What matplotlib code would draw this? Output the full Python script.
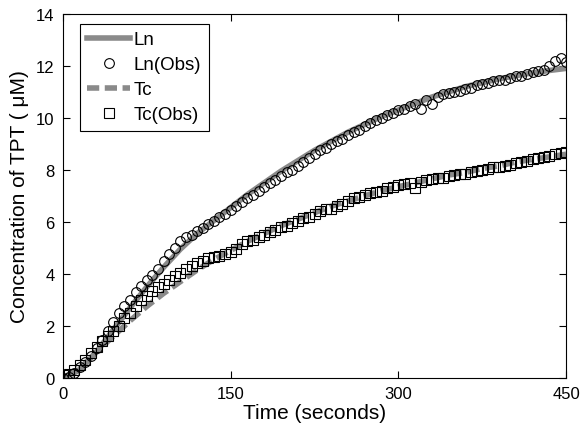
import numpy as np
import matplotlib
matplotlib.use("Agg")
import matplotlib.pyplot as plt

plt.rcParams['font.family'] = ['Liberation Sans', 'DejaVu Sans']

# observed points, every 5 s
t_obs = list(range(0, 455, 5))
ln_obs = [0.0, 0.05, 0.2, 0.4, 0.6, 0.85, 1.15, 1.45, 1.8, 2.15,
          2.5, 2.75, 3.0, 3.3, 3.55, 3.75, 3.95, 4.2, 4.5, 4.75,
          5.0, 5.25, 5.4, 5.5, 5.65, 5.75, 5.9, 6.05, 6.2, 6.3,
          6.45, 6.6, 6.75, 6.9, 7.05, 7.2, 7.35, 7.5, 7.6, 7.75,
          7.9, 8.0, 8.15, 8.3, 8.45, 8.6, 8.75, 8.85, 9.0, 9.1,
          9.2, 9.35, 9.45, 9.55, 9.7, 9.8, 9.9, 10.0, 10.1, 10.2,
          10.3, 10.35, 10.45, 10.55, 10.35, 10.7, 10.55, 10.8, 10.9, 10.95,
          11.0, 11.05, 11.1, 11.15, 11.25, 11.3, 11.35, 11.4, 11.45, 11.45,
          11.55, 11.6, 11.6, 11.7, 11.75, 11.8, 11.85, 12.0, 12.2, 12.3,
          12.15]
tc_obs = [0.1, 0.15, 0.3, 0.5, 0.7, 0.95, 1.2, 1.4, 1.6, 1.8,
          2.0, 2.3, 2.5, 2.75, 3.0, 3.15, 3.35, 3.5, 3.6, 3.75,
          3.9, 4.05, 4.2, 4.3, 4.4, 4.5, 4.6, 4.65, 4.7, 4.75,
          4.85, 4.95, 5.15, 5.25, 5.3, 5.4, 5.5, 5.6, 5.7, 5.8,
          5.85, 5.95, 6.05, 6.15, 6.2, 6.3, 6.4, 6.5, 6.5, 6.6,
          6.7, 6.8, 6.9, 6.95, 7.05, 7.1, 7.15, 7.2, 7.3, 7.35,
          7.4, 7.45, 7.5, 7.3, 7.55, 7.6, 7.65, 7.7, 7.7, 7.75,
          7.8, 7.85, 7.85, 7.9, 7.95, 8.0, 8.05, 8.1, 8.1, 8.15,
          8.2, 8.25, 8.3, 8.35, 8.4, 8.45, 8.5, 8.55, 8.6, 8.65,
          8.7]

# fitted curves
t_fit = list(range(0, 465, 15))
ln_fit = [0.0, 0.3, 1.0, 1.85, 2.7, 3.5, 4.25, 4.95, 5.55, 6.05,
          6.55, 7.05, 7.5, 7.95, 8.35, 8.75, 9.1, 9.45, 9.75, 10.05,
          10.3, 10.55, 10.8, 11.0, 11.2, 11.35, 11.5, 11.62, 11.73, 11.82,
          11.9]
tc_fit = [0.0, 0.35, 1.0, 1.6, 2.2, 2.75, 3.25, 3.7, 4.15, 4.55,
          4.9, 5.25, 5.55, 5.85, 6.1, 6.35, 6.6, 6.8, 7.0, 7.2,
          7.35, 7.5, 7.65, 7.8, 7.9, 8.05, 8.15, 8.3, 8.4, 8.5,
          8.6]

fig = plt.figure(figsize=(5.83, 4.35), dpi=100)
ax = fig.add_axes([0.108, 0.129, 0.863, 0.837])

gray = '#8a8a8a'
ax.plot(t_fit, ln_fit, color=gray, lw=4, label='Ln', zorder=2)
ax.plot(t_obs, ln_obs, 'o', mfc='none', mec='black', ms=7, mew=0.8,
        label='Ln(Obs)', zorder=3)
ax.plot(t_fit, tc_fit, color=gray, lw=4, ls=(0, (2.2, 1.0)), label='Tc', zorder=2)
ax.plot(t_obs, tc_obs, 's', mfc='none', mec='black', ms=7, mew=0.8,
        label='Tc(Obs)', zorder=3)

ax.set_xlim(0, 450)
ax.set_ylim(0, 14)
ax.set_xticks([0, 150, 300, 450])
ax.set_yticks(range(0, 16, 2))
ax.tick_params(direction='in', top=True, right=True, length=5, labelsize=12, pad=6)
for s in ax.spines.values():
    s.set_linewidth(0.8)

ax.set_xlabel('Time (seconds)', fontsize=15, labelpad=1)
ax.set_ylabel('Concentration of TPT ( \u03bcM)', fontsize=15, labelpad=5)

leg = ax.legend(loc='upper left', fontsize=13.5, handlelength=2.3,
                fancybox=False, edgecolor='black', framealpha=1,
                borderpad=0.4, labelspacing=0.42, handletextpad=0.2,
                borderaxespad=0, bbox_to_anchor=(0.033, 0.973))
leg.get_frame().set_linewidth(0.8)

fig.savefig('out.png', dpi=100)
